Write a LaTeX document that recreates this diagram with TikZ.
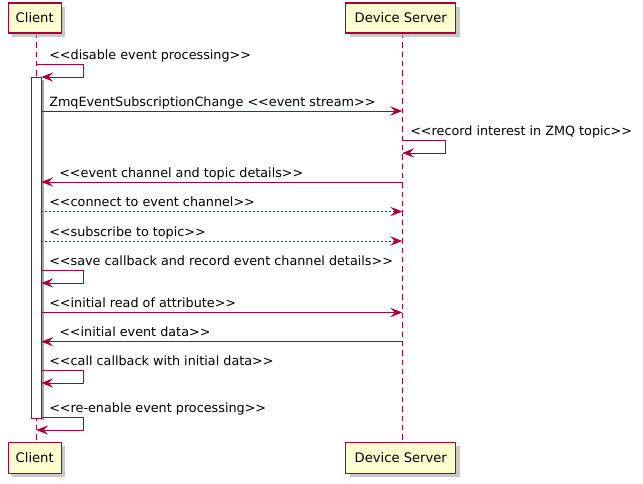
\documentclass[tikz,border=0pt]{standalone}
\usepackage{fontspec}
\setmainfont{DejaVu Sans}
\usetikzlibrary{arrows.meta}
\definecolor{pumlred}{HTML}{A80036}
\definecolor{pumlfill}{HTML}{FEFECE}
\tikzset{
  x=0.75pt, y=-0.75pt,
  partbox/.style={draw=pumlred, fill=pumlfill, line width=1pt, font=\fontsize{9.85pt}{11pt}\selectfont, inner sep=0pt, minimum width=53*0.75pt, minimum height=30*0.75pt},
  shadowbox/.style={fill=black!30, draw=none, opacity=0.7},
  lifeline/.style={draw=pumlred, dashed, dash pattern=on 4pt off 3pt, line width=0.75pt},
  msg/.style={draw=pumlred, line width=0.75pt, -{Stealth[length=9pt, width=7pt, inset=3.5pt]}},
  rmsg/.style={msg, dash pattern=on 1.5pt off 1.5pt},
  lbl/.style={anchor=base west, inner sep=0pt, font=\fontsize{9.58pt}{11pt}\selectfont},
}
\begin{document}
\begin{tikzpicture}
\useasboundingbox (0,0) rectangle (643,483);
% coordinates of lifelines
\coordinate (cT) at (36.3,33);
\coordinate (cB) at (36.3,442);
\coordinate (dT) at (402.3,33);
\coordinate (dB) at (402.3,442);
\draw[lifeline] (cT) -- (cB);
\draw[lifeline] (dT) -- (dB);
% shadows
\fill[shadowbox] (12,7) rectangle (65,37);
\fill[shadowbox] (350,7) rectangle (460,37);
\fill[shadowbox] (12,446) rectangle (65,477);
\fill[shadowbox] (350,446) rectangle (460,477);
% participants
\node[partbox] (c1) at (34.7,18) {Client};
\node[partbox, minimum width=110*0.75pt] (d1) at (400.8,18) {Device Server};
\node[partbox, minimum height=31*0.75pt] (c2) at (34.7,457.8) {Client};
\node[partbox, minimum width=110*0.75pt, minimum height=31*0.75pt] (d2) at (400.8,457.8) {Device Server};
% activation bar
\fill[black!35] (41.3,80) rectangle (44,420);
\node[draw=pumlred, fill=white, line width=0.75pt, minimum width=10*0.75pt, minimum height=341*0.75pt, inner sep=0pt] (act) at (36.3,247.6) {};
% helper coordinates
\foreach \n/\y in {m1/64,m1b/77,m2/111,m3/140,m3b/153,m4/182,m5/211.5,m6/241,m7/270,m7b/283,m8/312.5,m9/341.7,m10/370,m10b/383,m11/417,m11b/430}{
  \coordinate (C\n) at (41.3,\y);
  \coordinate (L\n) at (36.3,\y);
  \coordinate (D\n) at (402.3,\y);
  \coordinate (R\n) at (83,\y);
  \coordinate (S\n) at (445,\y);
}
% 1
\draw[msg] (Lm1) -- (Rm1) -- (Rm1b) -- (Cm1b);
\node[lbl] (t1) at (49,59) {<{}<disable event processing>{}>};
% 2
\draw[msg] (Cm2) -- (Dm2);
\node[lbl] (t2) at (49,106) {ZmqEventSubscriptionChange <{}<event stream>{}>};
% 3
\draw[msg] (Dm3) -- (Sm3) -- (Sm3b) -- (Dm3b);
\node[lbl] (t3) at (410,135) {<{}<record interest in ZMQ topic>{}>};
% 4
\draw[msg] (Dm4) -- (Cm4);
\node[lbl] (t4) at (59,177) {<{}<event channel and topic details>{}>};
% 5
\draw[rmsg] (Cm5) -- (Dm5);
\node[lbl] (t5) at (49,206.5) {<{}<connect to event channel>{}>};
% 6
\draw[rmsg] (Cm6) -- (Dm6);
\node[lbl] (t6) at (49,236) {<{}<subscribe to topic>{}>};
% 7
\draw[msg] (Cm7) -- (Rm7) -- (Rm7b) -- (Cm7b);
\node[lbl] (t7) at (49,265) {<{}<save callback and record event channel details>{}>};
% 8
\draw[msg] (Cm8) -- (Dm8);
\node[lbl] (t8) at (49,307.5) {<{}<initial read of attribute>{}>};
% 9
\draw[msg] (Dm9) -- (Cm9);
\node[lbl] (t9) at (59,336.7) {<{}<initial event data>{}>};
% 10
\draw[msg] (Cm10) -- (Rm10) -- (Rm10b) -- (Cm10b);
\node[lbl] (t10) at (49,365) {<{}<call callback with initial data>{}>};
% 11
\draw[msg] (Cm11) -- (Rm11) -- (Rm11b) -- (Lm11b);
\node[lbl] (t11) at (49,412) {<{}<re-enable event processing>{}>};
\end{tikzpicture}
\end{document}
